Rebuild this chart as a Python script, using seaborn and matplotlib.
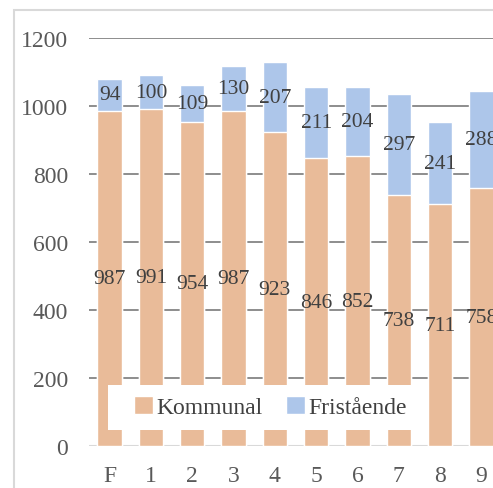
import numpy as np
import pandas as pd
import matplotlib
matplotlib.use("Agg")
import matplotlib.pyplot as plt
import seaborn as sns
from matplotlib.patches import Patch, Rectangle

arskurs = ["F", "1", "2", "3", "4", "5", "6", "7", "8", "9"]
kommunal = [987, 991, 954, 987, 923, 846, 852, 738, 711, 758]
fristaende = [94, 100, 109, 130, 207, 211, 204, 297, 241, 288]

ORANGE = "#E9BB99"
BLUE = "#ADC6EA"
TEXT = "#404040"

sns.set_theme(style="white")
plt.rcParams["font.family"] = ["Liberation Serif", "DejaVu Serif"]

df = pd.DataFrame({"arskurs": arskurs, "kommunal": kommunal, "fristaende": fristaende})
df["total"] = df["kommunal"] + df["fristaende"]

fig = plt.figure(figsize=(4.93, 4.89), dpi=100)
ax = fig.add_axes([89 / 493, 42.3 / 489, 413 / 493, 407.4 / 489])

# stacked bars: total in blue, kommunal drawn over it from 0
sns.barplot(data=df, x="arskurs", y="total", color=BLUE, width=0.59,
            saturation=1, ax=ax, zorder=2)
sns.barplot(data=df, x="arskurs", y="kommunal", color=ORANGE, width=0.59,
            saturation=1, ax=ax, zorder=3)

for i, (k, f) in enumerate(zip(kommunal, fristaende)):
    ax.text(i, k / 2, str(k), ha="center", va="center", fontsize=15.5,
            color=TEXT, zorder=4)
    ax.text(i, k + f / 2, str(f), ha="center", va="center", fontsize=15.5,
            color=TEXT, zorder=4)

ax.set_ylim(0, 1200)
ax.set_xlim(-0.5, 9.5)
ax.set_yticks(range(0, 1201, 200))
ax.grid(axis="y", color="#858585", linewidth=1.3)
ax.set_axisbelow(True)
ax.axhline(0, color="#d9d9d9", linewidth=1.5, zorder=1)
for s in ax.spines.values():
    s.set_visible(False)
ax.tick_params(axis="both", length=0, labelsize=17, colors="#595959")
ax.tick_params(axis="y", pad=15)
ax.tick_params(axis="x", pad=14)
ax.set_xlabel("")
ax.set_ylabel("")

# legend sits on a white box over the bars
ax.add_patch(Rectangle((0.046, 0.0385), 0.767, 0.11, transform=ax.transAxes,
                       facecolor="white", edgecolor="none", zorder=5))
handles = [Patch(facecolor=ORANGE, label="Kommunal"),
           Patch(facecolor=BLUE, label="Fristående")]
leg = ax.legend(handles=handles, loc="center", bbox_to_anchor=(0.4395, 0.095),
                ncol=2, fontsize=17, frameon=False, handlelength=0.8,
                handleheight=0.8, handletextpad=0.13, columnspacing=1.0,
                borderpad=0, labelcolor=TEXT)
leg.set_zorder(6)

# outer chart frame (cropped on the right and bottom)
fig.patches.append(Rectangle((13.5 / 493, -0.05), 1.2, (489 - 10.5) / 489 + 0.05,
                             transform=fig.transFigure, fill=False,
                             edgecolor="#d9d9d9", linewidth=1.5))

fig.savefig("out.png", dpi=100)
